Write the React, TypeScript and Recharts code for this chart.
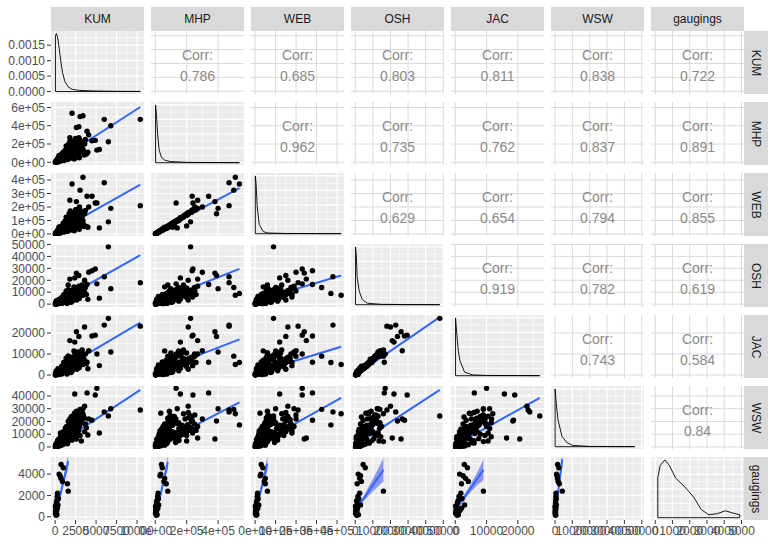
import React from "react";
import { ComposedChart, XAxis, YAxis, CartesianGrid, Scatter, Line, Area } from "recharts";

const FONT = '"Liberation Sans", Arial, Helvetica, sans-serif';

// ---------- variables ----------
const VAR_NAMES = ["KUM", "MHP", "WEB", "OSH", "JAC", "WSW", "gaugings"];

// observations without a gauging (blob + outliers)
const KUM_A = [110, 190, 320, 380, 520, 570, 720, 790, 930, 980, 1120, 1180, 1330, 1390, 1520, 1580, 1730, 1790, 1920, 2010, 2130, 2180, 2320, 2390, 2540, 2580, 2730, 2790, 2980, 3240, 140, 260, 340, 460, 540, 660, 740, 860, 940, 1060, 1140, 1260, 1340, 1460, 1540, 1660, 1740, 1860, 1940, 2060, 2140, 2260, 2340, 2460, 2560, 2640, 2890, 3120, 3480, 3820, 50, 80, 120, 180, 220, 310, 390, 470, 590, 690,
  10400, 6500, 2070, 3400, 3050, 6000, 6800, 5400, 4900, 4500, 2400, 5100, 3900, 2900, 4100, 3600, 2600, 1800, 3200, 4000];
const MHP_A = [5200, 14800, 12300, 29500, 22400, 44600, 35300, 59400, 50800, 79200, 40600, 94500, 65300, 119000, 55200, 138000, 84700, 161000, 70400, 179000, 109000, 201000, 90300, 219000, 131000, 238000, 99500, 171000, 252000, 149000, 10200, 19600, 8300, 27800, 18300, 40400, 24700, 55300, 30200, 69600, 60400, 104000, 45300, 90600, 124000, 75400, 149000, 100600, 129000, 80300, 161000, 119000, 188000, 95300, 211000, 139000, 75200, 229000, 121000, 89600, 2100, 6200, 3100, 7900, 4200, 17800, 6100, 12200, 31700, 15300,
  470000, 225000, 536000, 510000, 500000, 470000, 400000, 140000, 240000, 235000, 160000, 133000, 340000, 390000, 300000, 210000, 380000, 270000, 200000, 110000];
const WEB_A = [3100, 9800, 8900, 20300, 14700, 30400, 24600, 42300, 32800, 55400, 26200, 69500, 45300, 84600, 35400, 100300, 59700, 115400, 40200, 129600, 80300, 145200, 54800, 160300, 90200, 179600, 60300, 120400, 199500, 100300, 6100, 13800, 5200, 19700, 11300, 28200, 16800, 38300, 19200, 47800, 38400, 74600, 28300, 62200, 89700, 50300, 105200, 64800, 95300, 49700, 120300, 84600, 140200, 62300, 149600, 95200, 44800, 170300, 69700, 55200, 1100, 4100, 2000, 5100, 2900, 12100, 3900, 8100, 22200, 9800,
  210000, 90000, 370000, 420000, 325000, 380000, 190000, 45000, 230000, 280000, 120000, 230000, 280000, 150000, 200000, 160000, 240000, 250000, 60000, 50000];
const OSH_A = [410, 880, 1530, 1090, 2480, 1820, 3210, 2190, 4230, 2980, 5040, 3790, 6020, 4470, 7030, 5480, 7980, 6230, 9040, 6970, 10050, 7960, 11020, 9030, 11980, 6020, 12960, 8520, 11040, 13980, 690, 610, 1310, 1980, 920, 2790, 1520, 3620, 2090, 4520, 2610, 5480, 3420, 6510, 3980, 7520, 4790, 8580, 5820, 9480, 6820, 10530, 7580, 5020, 9980, 12520, 6980, 9520, 11480, 8020, 210, 290, 510, 260, 790, 460, 1690, 710, 1290, 2410,
  18000, 48000, 9000, 7500, 14000, 23000, 13000, 5000, 29500, 28000, 22000, 17000, 16500, 24000, 26700, 20000, 26000, 21000, 13500, 4000];
const JAC_A = [300, 510, 1090, 720, 1610, 1190, 2420, 1490, 3020, 1980, 3810, 2590, 4220, 3090, 5010, 3620, 5980, 4010, 7020, 4990, 7790, 5520, 8490, 6510, 9520, 4480, 10480, 7520, 8990, 11520, 490, 460, 910, 1390, 710, 1990, 1210, 2490, 1710, 3010, 2090, 3820, 2790, 4310, 3290, 5020, 3890, 5810, 4690, 6520, 5390, 7310, 5990, 3510, 7790, 9520, 4490, 7710, 7990, 5520, 110, 240, 160, 390, 210, 590, 310, 990, 510, 1690,
  23300, 27000, 6000, 5000, 9000, 23800, 11000, 4500, 19000, 18600, 15700, 10000, 6100, 18400, 11600, 22900, 20600, 16400, 10500, 3000];
const WSW_A = [610, 1480, 2420, 1790, 3510, 2590, 5220, 2980, 7030, 4490, 8820, 5980, 10480, 7520, 12030, 8980, 14020, 9970, 16030, 12490, 18020, 13980, 20030, 15980, 22020, 10980, 24030, 16980, 25020, 18980, 1210, 1990, 910, 4020, 2190, 5010, 3290, 6520, 4190, 8010, 5590, 11520, 6980, 13010, 8480, 15020, 9490, 17520, 10980, 19510, 13480, 21020, 15490, 8990, 23010, 18490, 12980, 21510, 23980, 14980, 290, 510, 790, 410, 990, 1390, 710, 2790, 1610, 3790,
  29000, 24300, 17300, 26000, 29500, 27500, 30000, 11000, 40800, 21000, 41500, 46000, 42400, 20400, 22000, 32000, 6300, 7000, 4700, 9400];

// further observations filling the dense cluster near the origin
const KUM_B = [2200, 2700, 1500, 1900, 3300, 2600, 1200, 800, 1700, 2400, 3000, 2000, 1300, 3600, 1000, 2900, 1600, 2300, 700, 1800, 2500, 3400, 1100, 2100, 2800, 1400, 900, 3700, 1250, 2050, 600, 1650, 2450, 3150, 450, 1550, 2750, 1950, 850, 2250, 3550, 1350, 2650, 1050, 3050, 650, 1850, 2950, 1450, 2350,
  90, 250, 160, 420, 300, 520, 230, 600, 370, 700, 140, 480, 60, 800, 340];
const MHP_B = [120000, 200000, 150000, 60000, 180000, 90000, 130000, 90000, 210000, 170000, 110000, 230000, 40000, 200000, 110000, 270000, 100000, 60000, 70000, 190000, 260000, 140000, 20000, 150000, 230000, 160000, 25000, 250000, 85000, 45000, 55000, 125000, 95000, 210000, 42000, 30000, 150000, 100000, 65000, 205000, 80000, 180000, 120000, 50000, 160000, 30000, 240000, 50000, 75000, 35000,
  9000, 4000, 18000, 8000, 35000, 60000, 25000, 10000, 50000, 20000, 15000, 75000, 1000, 40000, 28000];
const WEB_B = [90000, 140000, 100000, 45000, 130000, 60000, 95000, 60000, 150000, 125000, 70000, 160000, 28000, 150000, 80000, 190000, 70000, 40000, 50000, 135000, 180000, 100000, 14000, 110000, 170000, 115000, 18000, 175000, 60000, 30000, 38000, 90000, 65000, 150000, 30000, 20000, 105000, 75000, 45000, 140000, 55000, 125000, 85000, 36000, 115000, 22000, 170000, 35000, 52000, 24000,
  6000, 3000, 12000, 6000, 25000, 42000, 17000, 7000, 35000, 14000, 10000, 53000, 700, 28000, 20000];
const OSH_B = [4500, 5500, 9500, 3000, 16000, 9000, 7500, 5500, 3500, 13000, 6500, 11500, 2200, 10000, 1800, 15000, 12000, 14500, 4800, 6800, 8000, 12500, 6500, 2500, 10500, 4200, 3800, 14000, 8500, 8200, 3500, 10500, 11800, 7800, 2600, 5200, 13800, 1500, 1000, 9800, 9000, 11000, 3500, 8000, 12000, 4000, 8800, 4800, 600, 6000,
  1500, 300, 600, 3000, 1200, 700, 2200, 4200, 400, 1600, 2600, 3800, 900, 600, 3400];
const JAC_B = [3500, 4000, 6000, 2500, 12000, 7000, 5200, 4200, 2800, 10500, 5000, 8500, 1800, 7000, 1400, 10000, 9000, 11500, 3300, 5200, 6000, 9000, 4800, 2000, 8000, 3200, 2600, 10000, 6200, 6300, 2700, 7500, 8800, 6000, 1700, 4000, 11000, 1200, 800, 7000, 6800, 8000, 2800, 6000, 9500, 2800, 6500, 3500, 500, 4500,
  1100, 250, 450, 2100, 900, 500, 1600, 3200, 300, 1200, 1900, 2600, 700, 450, 2400];
const WSW_B = [21000, 9000, 5000, 18000, 26000, 28000, 3500, 9500, 13000, 11000, 17000, 24000, 14000, 12000, 12000, 16000, 20000, 8000, 8500, 22000, 13000, 30000, 6000, 5500, 20000, 16000, 10000, 18000, 15000, 10500, 7000, 6500, 25000, 27000, 5800, 12500, 14500, 9000, 4500, 17500, 22500, 10000, 23500, 3000, 9000, 11000, 14000, 16000, 8000, 26500,
  2000, 3000, 400, 1200, 4500, 2000, 3500, 6000, 2500, 8000, 600, 3200, 1500, 6500, 5500];

// observations with a gauging
const KUM_G = [730, 1000, 490, 610, 1600, 1500, 300, 250, 400, 200, 150, 350, 120, 80, 180, 60, 100, 50, 220, 130, 280, 40, 900, 700];
const MHP_G = [40000, 45000, 35000, 30000, 80000, 70000, 18000, 15000, 20000, 10000, 8000, 22000, 5000, 4000, 9000, 3000, 6000, 2000, 12000, 7000, 16000, 2000, 55000, 60000];
const WEB_G = [30000, 38000, 28000, 25000, 60000, 50000, 12000, 10000, 15000, 8000, 6000, 18000, 4000, 3000, 7000, 2000, 5000, 1500, 9000, 5000, 13000, 1000, 45000, 50000];
const OSH_G = [4500, 5700, 1700, 3000, 16000, 1100, 2500, 1500, 2000, 800, 1200, 3000, 600, 400, 1000, 300, 700, 200, 1800, 900, 1300, 150, 3500, 2500];
const JAC_G = [2900, 3900, 1400, 2500, 9000, 2000, 1800, 1200, 2200, 900, 700, 3000, 500, 300, 1500, 200, 800, 150, 1000, 600, 2000, 100, 4200, 3300];
const WSW_G = [1500, 2200, 900, 1200, 4200, 2500, 600, 500, 700, 400, 300, 800, 200, 150, 350, 100, 250, 80, 450, 300, 550, 60, 1800, 1400];
const GAUGINGS = [4900, 4600, 4000, 3850, 2400, 3100, 2200, 1900, 1700, 1500, 1300, 1100, 900, 700, 600, 500, 400, 300, 200, 150, 800, 1000, 3300, 3600];

const MAIN = [
  [...KUM_A, ...KUM_B],
  [...MHP_A, ...MHP_B],
  [...WEB_A, ...WEB_B],
  [...OSH_A, ...OSH_B],
  [...JAC_A, ...JAC_B],
  [...WSW_A, ...WSW_B],
];
const GAUGED = [KUM_G, MHP_G, WEB_G, OSH_G, JAC_G, WSW_G, GAUGINGS];

// ---------- axes ----------
const COL_DOMAINS = [[-500, 10850], [-27000, 565000], [-20000, 434000], [-2400, 50400], [-1350, 28350], [-2300, 51300], [-245, 5145]];
const COL_TICKS = [[0, 2500, 5000, 7500, 10000], [0, 200000, 400000], [0, 100000, 200000, 300000, 400000], [0, 10000, 20000, 30000, 40000, 50000], [0, 10000, 20000], [0, 10000, 20000, 30000, 40000, 50000], [0, 1000, 2000, 3000, 4000, 5000]];
const COL_MINOR = [[1250, 3750, 6250, 8750], [100000, 300000, 500000], [50000, 150000, 250000, 350000], [5000, 15000, 25000, 35000, 45000], [5000, 15000, 25000], [5000, 15000, 25000, 35000, 45000], [500, 1500, 2500, 3500, 4500]];
const COL_LABELS = [["0", "2500", "5000", "7500", "10000"], ["0e+00", "2e+05", "4e+05"], ["0e+00", "1e+05", "2e+05", "3e+05", "4e+05"], ["0", "10000", "20000", "30000", "40000", "50000"], ["0", "10000", "20000"], ["0", "10000", "20000", "30000", "40000", "50000"], ["0", "1000", "2000", "3000", "4000", "5000"]];

const ROW_DOMAINS = [[-500, 10850], [-30000, 660000], [-15000, 452000], [-2400, 50400], [-1400, 28600], [-1600, 47800], [-300, 5600]];
const ROW_TICKS = [[0, 2500, 5000, 7500, 10000], [0, 200000, 400000, 600000], [0, 100000, 200000, 300000, 400000], [0, 10000, 20000, 30000, 40000, 50000], [0, 10000, 20000], [0, 10000, 20000, 30000, 40000], [0, 2000, 4000]];
const ROW_MINOR = [[1250, 3750, 6250, 8750], [100000, 300000, 500000], [50000, 150000, 250000, 350000], [5000, 15000, 25000, 35000, 45000], [5000, 15000, 25000], [5000, 15000, 25000, 35000, 45000], [1000, 3000, 5000]];
const ROW_LABELS = [[], ["0e+00", "2e+05", "4e+05", "6e+05"], ["0e+00", "1e+05", "2e+05", "3e+05", "4e+05"], ["0", "10000", "20000", "30000", "40000", "50000"], ["0", "10000", "20000"], ["0", "10000", "20000", "30000", "40000"], ["0", "2000", "4000"]];

const KUM_DENS_DOMAIN = [-0.00008, 0.00196];
const KUM_DENS_TICKS = [0, 0.0005, 0.001, 0.0015];
const KUM_DENS_MINOR = [0.00025, 0.00075, 0.00125, 0.00175];
const KUM_DENS_LABELS = ["0.0000", "0.0005", "0.0010", "0.0015"];
const REL_DOMAIN = [-0.04, 1.05];
const REL_TICKS = [0, 0.25, 0.5, 0.75, 1];
const REL_MINOR = [0.125, 0.375, 0.625, 0.875];

// ---------- densities ----------
const DENS_KUM = [[40, 0.0018], [150, 0.00188], [300, 0.00176], [500, 0.0014], [700, 0.00098], [900, 0.00062], [1200, 0.00032], [1600, 0.00015], [2100, 0.00007], [3000, 0.000035], [4500, 0.00002], [6000, 0.000012], [8000, 0.000006], [10400, 0.000003]];
const DENS_MHP = [[2000, 1.0], [8000, 0.82], [15000, 0.5], [25000, 0.22], [40000, 0.09], [60000, 0.045], [95000, 0.02], [200000, 0.006], [350000, 0.002], [536000, 0.001]];
const DENS_WEB = [[1000, 1.0], [5000, 0.86], [10000, 0.48], [20000, 0.16], [40000, 0.035], [63000, 0.012], [150000, 0.004], [300000, 0.002], [420000, 0.001]];
const DENS_OSH = [[150, 1.0], [600, 0.86], [1100, 0.47], [2300, 0.23], [4000, 0.09], [6800, 0.025], [15000, 0.006], [30000, 0.002], [48000, 0.001]];
const DENS_JAC = [[100, 1.0], [500, 0.72], [1000, 0.43], [1500, 0.26], [3000, 0.06], [5500, 0.014], [10000, 0.004], [20000, 0.002], [27000, 0.001]];
const DENS_WSW = [[60, 1.0], [800, 0.72], [1700, 0.47], [4000, 0.18], [6900, 0.07], [10300, 0.022], [20000, 0.005], [35000, 0.002], [46000, 0.001]];
const DENS_G = [[150, 0.69], [280, 0.9], [560, 1.0], [830, 0.9], [1170, 0.69], [1720, 0.53], [2220, 0.36], [2670, 0.14], [3110, 0.05], [3610, 0.07], [4060, 0.12], [4440, 0.085], [4900, 0.05]];
const DENSITIES = [DENS_KUM, DENS_MHP, DENS_WEB, DENS_OSH, DENS_JAC, DENS_WSW, DENS_G];

// ---------- fitted lines [row, col, x0, y0, x1, y1] ----------
const FITS = [
  [1, 0, 0, 5000, 10400, 605000],
  [2, 0, 0, 10000, 10400, 365000],
  [2, 1, 0, 7000, 536000, 340000],
  [3, 0, 0, 800, 10400, 41000],
  [3, 1, 0, 1600, 536000, 29500],
  [3, 2, 0, 2500, 420000, 24000],
  [4, 0, 0, 1000, 10400, 25000],
  [4, 1, 0, 1500, 536000, 17000],
  [4, 2, 0, 1000, 420000, 13500],
  [4, 3, 0, 0, 48000, 27600],
  [5, 0, 0, 800, 10400, 44700],
  [5, 1, 0, 800, 536000, 35000],
  [5, 2, 0, 800, 420000, 38500],
  [5, 3, 0, 1500, 48000, 44700],
  [5, 4, 0, 1500, 27000, 38500],
  [6, 0, 40, 150, 1600, 5200],
  [6, 1, 2000, 0, 80000, 5100],
  [6, 2, 1000, 300, 60000, 5000],
  [6, 3, 150, 600, 16000, 4400],
  [6, 4, 100, 650, 9000, 4400],
  [6, 5, 60, 100, 4200, 5400],
];

// confidence bands of the gaugings row [x, lo, hi]
const BANDS_G = [
  [[40, -50, 350], [400, 1165, 1465], [800, 2330, 2890], [1200, 3450, 4360], [1600, 4500, 5900]],
  [[2000, -200, 200], [20000, 1040, 1310], [40000, 2230, 2740], [60000, 3380, 4200], [80000, 4450, 5750]],
  [[1000, 50, 550], [15000, 1260, 1570], [30000, 2300, 2920], [45000, 3300, 4300], [60000, 4300, 5700]],
  [[150, 300, 900], [2500, 990, 1340], [5000, 1520, 2010], [8000, 2040, 2920], [12000, 2700, 4180], [16000, 3300, 5500]],
  [[100, 350, 950], [1500, 1060, 1420], [3000, 1640, 2100], [5000, 2350, 3080], [7000, 2950, 4160], [9000, 3450, 5350]],
  [[60, -150, 350], [1000, 1150, 1450], [2000, 2280, 2880], [3000, 3360, 4360], [4200, 4650, 6150]],
];

const CORR = ["0.786", "0.685", "0.803", "0.811", "0.838", "0.722", "0.962", "0.735", "0.762", "0.837", "0.891", "0.629", "0.654", "0.794", "0.855", "0.919", "0.782", "0.619", "0.743", "0.584", "0.84"];

// ---------- layout ----------
const PANEL_W = 93;
const PANEL_H = 63;
const COL0 = 51;
const COL_PITCH = 100;
const ROW0 = 31;
const ROW_PITCH = 71;
const YAXIS_W = 50;
const XAXIS_H = 24;
const N = 7;

const tickStyle = { fontSize: 12, fill: "#4d4d4d", fontFamily: FONT };

function pointsFor(r: number, c: number) {
  const pts: { x: number; y: number }[] = [];
  if (r < 6 && c < 6) {
    for (let i = 0; i < MAIN[0].length; i++) pts.push({ x: MAIN[c][i], y: MAIN[r][i] });
  }
  for (let i = 0; i < GAUGED[0].length; i++) pts.push({ x: GAUGED[c][i], y: GAUGED[r][i] });
  return pts;
}

function densityPath(d: number[][]) {
  const first = d[0][0];
  const last = d[d.length - 1][0];
  const out = [{ x: first, y: 0 }];
  d.forEach(([x, y]) => out.push({ x, y }));
  out.push({ x: last, y: 0 });
  out.push({ x: first, y: 0 });
  return out;
}

const Dot = (p: any) => <circle cx={p.cx} cy={p.cy} r={2.7} fill="#000" />;

function fmt(ticks: number[], labels: string[]) {
  return (v: number) => {
    const i = ticks.indexOf(v);
    return i >= 0 ? labels[i] : "";
  };
}

function Cell({ r, c }: { r: number; c: number }) {
  const firstCol = c === 0;
  const lastRow = r === N - 1;
  const w = PANEL_W + (firstCol ? YAXIS_W : 0);
  const h = PANEL_H + (lastRow ? XAXIS_H : 0);
  const left = COL0 + c * COL_PITCH - (firstCol ? YAXIS_W : 0);
  const top = ROW0 + r * ROW_PITCH;
  const kind = r === c ? "diag" : r > c ? "lower" : "upper";

  const xDomain = COL_DOMAINS[c];
  const xTicks = COL_TICKS[c];
  const xMinor = COL_MINOR[c];

  let yDomain = ROW_DOMAINS[r];
  let yTicks = ROW_TICKS[r];
  let yMinor = ROW_MINOR[r];
  let yLabels = ROW_LABELS[r];
  if (kind === "diag") {
    if (r === 0) {
      yDomain = KUM_DENS_DOMAIN;
      yTicks = KUM_DENS_TICKS;
      yMinor = KUM_DENS_MINOR;
      yLabels = KUM_DENS_LABELS;
    } else {
      yDomain = REL_DOMAIN;
      yTicks = REL_TICKS;
      yMinor = REL_MINOR;
    }
  }

  const fit = FITS.find((f) => f[0] === r && f[1] === c);
  const band = r === 6 && c < 6 ? BANDS_G[c].map(([x, lo, hi]) => ({ x, band: [lo, hi] })) : null;

  return (
    <div style={{ position: "absolute", left, top, width: w, height: h }}>
      <ComposedChart width={w} height={h} margin={{ top: 0, right: 0, bottom: 0, left: 0 }}>
        <XAxis
          type="number"
          dataKey="x"
          domain={xDomain}
          ticks={xTicks}
          allowDataOverflow
          hide={!lastRow}
          height={XAXIS_H}
          interval={0}
          tickSize={4}
          tickMargin={2}
          axisLine={false}
          tickLine={{ stroke: "#333333" }}
          tick={tickStyle}
          tickFormatter={fmt(xTicks, COL_LABELS[c])}
        />
        <YAxis
          type="number"
          dataKey="y"
          domain={yDomain}
          ticks={yTicks}
          allowDataOverflow
          hide={!firstCol}
          width={YAXIS_W}
          interval={0}
          tickSize={4}
          tickMargin={2}
          axisLine={false}
          tickLine={{ stroke: "#333333" }}
          tick={tickStyle}
          tickFormatter={fmt(yTicks, yLabels)}
        />
        {kind === "upper" ? (
          <CartesianGrid stroke="#dadada" strokeWidth={1} horizontalValues={yTicks} verticalValues={xTicks} />
        ) : (
          <CartesianGrid fill="#EBEBEB" fillOpacity={1} stroke="#ffffff" strokeWidth={0.6} horizontalValues={yMinor} verticalValues={xMinor} />
        )}
        {kind !== "upper" && (
          <CartesianGrid stroke="#ffffff" strokeWidth={1.2} horizontalValues={yTicks} verticalValues={xTicks} />
        )}
        {kind === "diag" && (
          <Line
            data={densityPath(DENSITIES[c])}
            dataKey="y"
            type="linear"
            stroke="#000"
            strokeWidth={0.9}
            dot={false}
            isAnimationActive={false}
          />
        )}
        {band && (
          <Area data={band} dataKey="band" type="linear" stroke="none" fill="#4b5ee8" fillOpacity={0.6} isAnimationActive={false} />
        )}
        {kind === "lower" && (
          <Scatter data={pointsFor(r, c)} fill="#000" shape={Dot} isAnimationActive={false} />
        )}
        {kind === "lower" && fit && (
          <Line
            data={[{ x: fit[2], y: fit[3] }, { x: fit[4], y: fit[5] }]}
            dataKey="y"
            type="linear"
            stroke="#3366FF"
            strokeWidth={2}
            dot={false}
            isAnimationActive={false}
          />
        )}
      </ComposedChart>
    </div>
  );
}

export default function App() {
  const cells: React.ReactNode[] = [];
  const texts: React.ReactNode[] = [];
  let k = 0;
  for (let r = 0; r < N; r++) {
    for (let c = 0; c < N; c++) {
      cells.push(<Cell key={`c${r}-${c}`} r={r} c={c} />);
      if (c > r) {
        const left = COL0 + c * COL_PITCH;
        const top = ROW0 + r * ROW_PITCH;
        const txt = CORR[k++];
        texts.push(
          <div key={`t${r}-${c}`} style={{ position: "absolute", left, top: top + 15, width: PANEL_W, textAlign: "center", fontSize: 14, lineHeight: "18px", color: "#8a8a8a" }}>
            <div>Corr:</div>
            <div style={{ marginTop: 3 }}>{txt}</div>
          </div>
        );
      }
    }
  }
  return (
    <div style={{ position: "absolute", left: 0, top: 0, width: 775, height: 545, background: "#ffffff", fontFamily: FONT, overflow: "hidden" }}>
      <style>{".recharts-surface{overflow:visible}"}</style>
      {VAR_NAMES.map((n, i) => (
        <div key={`s${i}`} style={{ position: "absolute", left: COL0 + i * COL_PITCH, top: 7, width: PANEL_W, height: 24, background: "#D9D9D9", color: "#1a1a1a", fontSize: 12, lineHeight: "24px", textAlign: "center" }}>
          {n}
        </div>
      ))}
      {VAR_NAMES.map((n, i) => (
        <div key={`rs${i}`} style={{ position: "absolute", left: COL0 + 6 * COL_PITCH + PANEL_W, top: ROW0 + i * ROW_PITCH, width: 24, height: PANEL_H, background: "#D9D9D9" }}>
          <div style={{ position: "absolute", left: 12, top: PANEL_H / 2, transform: "translate(-50%, -50%) rotate(90deg)", color: "#1a1a1a", fontSize: 12, whiteSpace: "nowrap", lineHeight: "14px" }}>
            {n}
          </div>
        </div>
      ))}
      {cells}
      {texts}
    </div>
  );
}
